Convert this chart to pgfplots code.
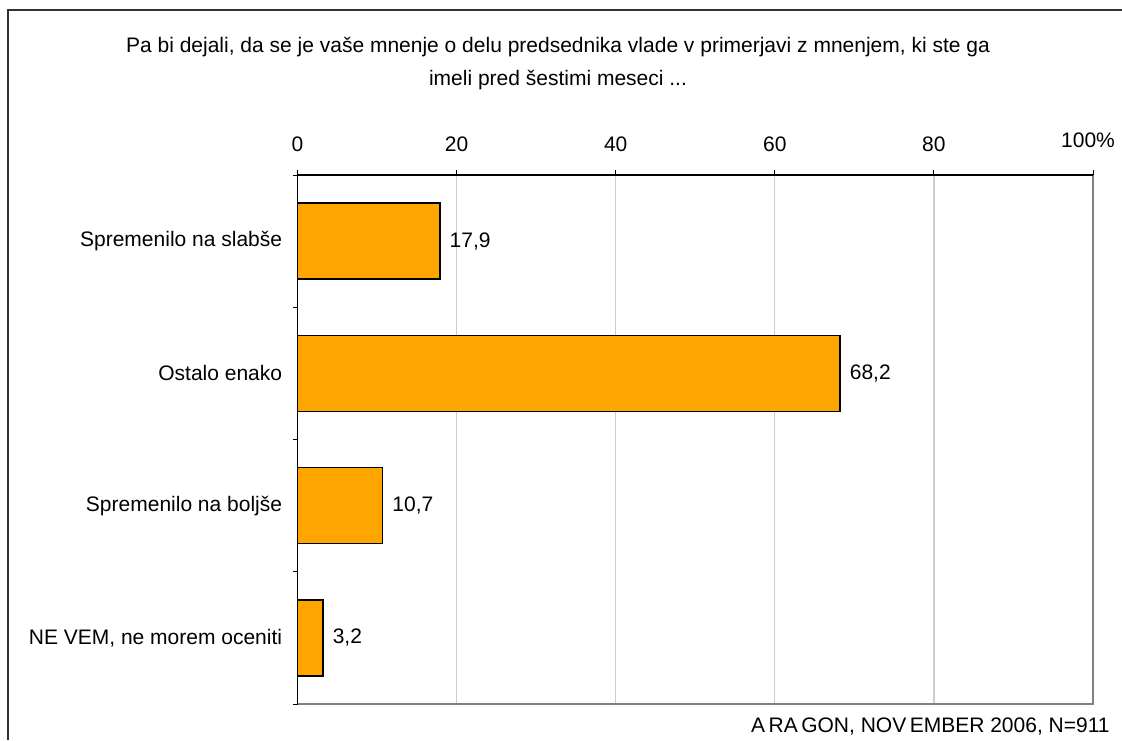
\documentclass[border=0pt]{standalone}
\usepackage{pgfplots}
\pgfplotsset{compat=1.18}
\usepackage{fontspec}
\setmainfont{Liberation Sans}
\definecolor{barorange}{RGB}{255,165,0}
\definecolor{gridgray}{RGB}{205,205,205}
\definecolor{boxgray}{RGB}{128,128,128}
\begin{document}
\fontsize{10.5}{12.6}\selectfont
\begin{tikzpicture}
\useasboundingbox (0,0) rectangle (561pt,370pt);
\draw[black!80, line width=0.7pt] (4pt,0) -- (4pt,365pt) -- (561pt,365pt);
\node[align=center, font=\fontsize{10.5}{16.5}\selectfont] at (279pt,338pt)
  {Pa bi dejali, da se je vaše mnenje o delu predsednika vlade v primerjavi z mnenjem, ki ste ga\\imeli pred šestimi meseci ...};
\node[anchor=east, inner sep=0pt, font=\fontsize{10.5}{12.6}\selectfont] at (555pt,6.5pt) {A\,RA\,GON, NOV\,EMBER 2006, N=911};
\begin{axis}[
  at={(148.75pt,18pt)}, anchor=south west,
  scale only axis, width=397.75pt, height=264.5pt,
  xbar, bar width=38pt,
  xmin=0, xmax=100, ymin=0.5, ymax=4.5,
  axis line style={draw=none},
  clip=false,
  xtick={0,20,40,60,80,100},
  xticklabels={0,20,40,60,80,\raisebox{2pt}{100\%\hspace{5pt}}},
  xticklabel pos=upper,
  xtick pos=upper,
  ytick pos=left,
  tick align=outside,
  major tick length=2.5pt,
  xtick style={draw=black, line width=0.5pt},
  xmajorgrids, grid style={gridgray, line width=0.6pt},
  xticklabel style={inner sep=0pt, yshift=9pt, font=\fontsize{10.5}{12.6}\selectfont},
  ytick={1,2,3,4},
  yticklabels={{NE VEM, ne morem oceniti},{Spremenilo na boljše},{Ostalo enako},{Spremenilo na slabše}},
  ytick style={draw=none},
  yticklabel style={inner sep=0pt, xshift=-5pt, font=\fontsize{10.5}{12.6}\selectfont},
  extra y ticks={0.5,1.5,2.5,3.5,4.5},
  extra y tick labels={},
  extra y tick style={grid=none, ytick pos=left, ytick style={draw=black, line width=0.5pt}},
  /pgf/number format/assume math mode=true,
  nodes near coords,
  nodes near coords align={horizontal},
  every node near coord/.append style={font=\fontsize{10.5}{12.6}\selectfont, anchor=west, xshift=1pt,
    /pgf/number format/.cd, fixed, fixed zerofill, precision=1, use comma, assume math mode=true},
]
\addplot[fill=barorange, draw=black, line width=0.8pt] coordinates {(17.9,4) (68.2,3) (10.7,2) (3.2,1)};
\draw[boxgray, line width=0.7pt] (axis cs:0,0.5) -- (axis cs:100,0.5) -- (axis cs:100,4.5);
\draw[black, line width=0.7pt] (axis cs:0,0.5) -- (axis cs:0,4.5) -- (axis cs:100,4.5);
\end{axis}
\end{tikzpicture}
\end{document}
